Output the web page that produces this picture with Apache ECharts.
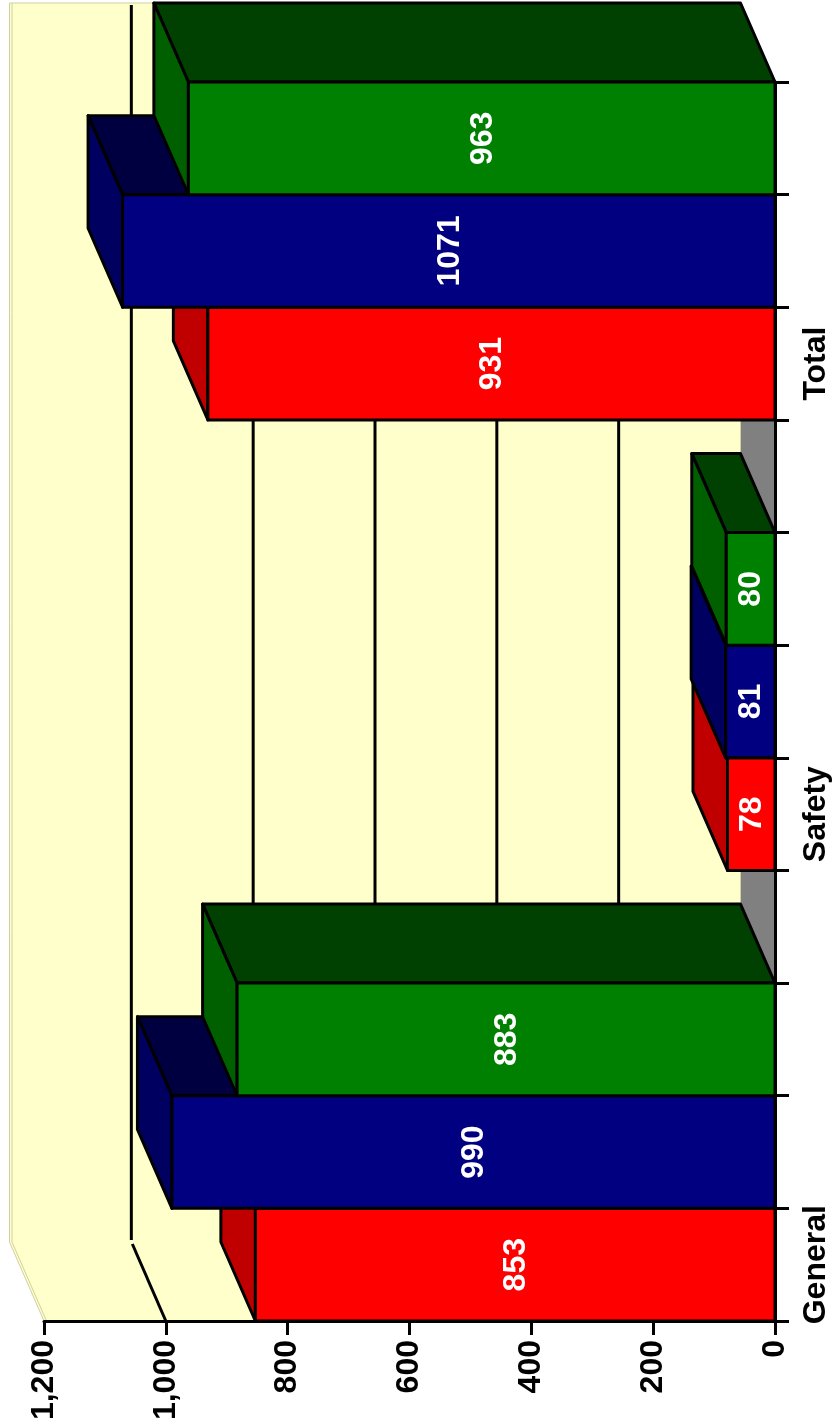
<!DOCTYPE html>
<html>
<head>
<meta charset="utf-8">
<style>html,body{margin:0;padding:0;background:#fff}#c{width:833px;height:1428px}</style>
<script src="https://cdn.jsdelivr.net/npm/echarts@6/dist/echarts.min.js"></script>
</head>
<body>
<div id="c"></div>
<script>
// Values. Blank categories are the gaps between groups.
var categories = ['General','','','','Safety','','','','Total','',''];
var redValues   = [853,null,null,null,78,null,null,null,931,null,null];
var blueValues  = [null,990,null,null,null,81,null,null,null,1071,null];
var greenValues = [null,null,883,null,null,null,80,null,null,null,963];
var gridValues  = [200,400,600,800,1000];
var valueTickLabels = {0:'0',200:'200',400:'400',600:'600',800:'800',1000:'1,000',1200:'1,200'};
var axisMax = 1200, axisStep = 200;

// Style constants
var DX = 34.5, DY = 79;   // depth offset of the fake 3D
var LINE = 3;
var FONT_FAMILY = '"Liberation Sans", Arial, sans-serif';
var FONT = 'bold 32px ' + FONT_FAMILY;
var WALL = '#FFFFCC', RIM = '#CFCFA3', FLOOR = '#808080';

var chart = echarts.init(document.getElementById('c'), null, {renderer:'canvas'});

function edges(api, catIndex, value) {
  var c = api.coord([value, catIndex]);
  var band = api.size([0, 1])[1];
  return {x: c[0], y0: c[1] + band / 2, y1: c[1] - band / 2};
}

function renderWalls(params, api) {
  var a = edges(api, 0, 0), b = edges(api, categories.length - 1, 0);
  var m = api.coord([axisMax, 0]);
  var xF = a.x, xM = m[0], yB = a.y0, yT = b.y1;
  var poly = function (pts, fill) {
    return {type:'polygon', shape:{points:pts}, style:{fill:fill, stroke:null}};
  };
  var rim = function (pts) {
    return {type:'polyline', shape:{points:pts}, style:{fill:null, stroke:RIM, lineWidth:1}};
  };
  return {type:'group', children:[
    poly([[xF-DX,yT-DY],[xF,yT],[xF,yB],[xF-DX,yB-DY]], FLOOR),
    poly([[xM-DX,yT-DY],[xF-DX,yT-DY],[xF-DX,yB-DY],[xF,yB],[xM,yB],[xM-DX,yB-DY]], WALL),
    rim([[xF-DX,yB-DY],[xF-DX,yT-DY],[xM-DX,yT-DY],[xM-DX,yB-DY],[xM,yB]]),
    rim([[xM-DX+2.5,yT-DY],[xM-DX+2.5,yB-DY],[xM+2.5,yB]])
  ]};
}

function renderGrid(params, api) {
  var v = api.value(0);
  var a = edges(api, 0, v), b = edges(api, categories.length - 1, v);
  var st = {fill:null, stroke:'#000', lineWidth:LINE};
  return {type:'group', children:[
    {type:'polyline', shape:{points:[[a.x-DX,b.y1-DY+2],[a.x-DX,a.y0-DY-2]]}, style:st},
    {type:'polyline', shape:{points:[[a.x-DX+1,a.y0-DY+2],[a.x,a.y0]]}, style:st}
  ]};
}

function barRenderer(front, sideFace, topFace) {
  return function (params, api) {
    var idx = api.value(0), val = api.value(1);
    var zero = edges(api, idx, 0), e = edges(api, idx, val);
    var xv = e.x, x0 = zero.x, yb = e.y0, yt = e.y1;
    var st = function (fill) {
      return {fill:fill, stroke:'#000', lineWidth:LINE, lineJoin:'round'};
    };
    return {type:'group', children:[
      {type:'polygon', shape:{points:[[xv,yt],[x0,yt],[x0-DX,yt-DY],[xv-DX,yt-DY]]}, style:st(topFace)},
      {type:'polygon', shape:{points:[[xv,yb],[xv,yt],[xv-DX,yt-DY],[xv-DX,yb-DY]]}, style:st(sideFace)},
      {type:'polygon', shape:{points:[[xv,yb],[x0,yb],[x0,yt],[xv,yt]]}, style:st(front)},
      {type:'text', x:(xv+x0)/2 + 1, y:(yb+yt)/2, rotation:Math.PI/2,
        style:{text:String(val), fill:'#fff', font:FONT, align:'center', verticalAlign:'middle'}}
    ]};
  };
}

function barData(values) {
  var out = [];
  values.forEach(function (v, i) { if (v != null) out.push([i, v]); });
  return out;
}

function barSeries(name, values, front, side, top) {
  return {type:'custom', name:name, z:5, clip:false, silent:true,
    encode:{x:1, y:0},
    data:barData(values),
    renderItem:barRenderer(front, side, top)};
}

chart.setOption({
  animation:false,
  backgroundColor:'#fff',
  textStyle:{fontFamily:FONT_FAMILY},
  grid:{left:44, right:58, top:82, bottom:107, containLabel:false},
  xAxis:{type:'value', min:0, max:axisMax, interval:axisStep, inverse:true, position:'bottom', z:10,
    splitLine:{show:false},
    axisLine:{show:true, onZero:false, lineStyle:{color:'#000', width:LINE}},
    axisTick:{show:true, length:14, lineStyle:{color:'#000', width:LINE}},
    axisLabel:{show:true, rotate:90, margin:19, color:'#000', padding:[5,0,0,0],
      fontFamily:FONT_FAMILY, fontWeight:'bold', fontSize:32,
      formatter:function (v) { return valueTickLabels[v]; }}
  },
  yAxis:{type:'category', data:categories, position:'right', z:10,
    axisLine:{show:true, onZero:false, lineStyle:{color:'#000', width:LINE}},
    axisTick:{show:true, length:14, interval:0, alignWithLabel:false, lineStyle:{color:'#000', width:LINE}},
    axisLabel:{show:true, rotate:90, interval:0, margin:25, color:'#000',
      fontFamily:FONT_FAMILY, fontWeight:'bold', fontSize:32, hideOverlap:false},
    splitLine:{show:false}
  },
  series:[
    {type:'custom', name:'walls', z:1, clip:false, silent:true, encode:{x:0,y:1},
      data:[[0,0]], renderItem:renderWalls},
    {type:'custom', name:'gridlines', z:2, clip:false, silent:true, encode:{x:0,y:1},
      data:gridValues.map(function (v) { return [v, 0]; }),
      renderItem:renderGrid},
    barSeries('red', redValues, '#FF0000', '#C00000', '#800000'),
    barSeries('blue', blueValues, '#000080', '#000060', '#000040'),
    barSeries('green', greenValues, '#008000', '#006000', '#004000')
  ]
});
</script>
</body>
</html>
